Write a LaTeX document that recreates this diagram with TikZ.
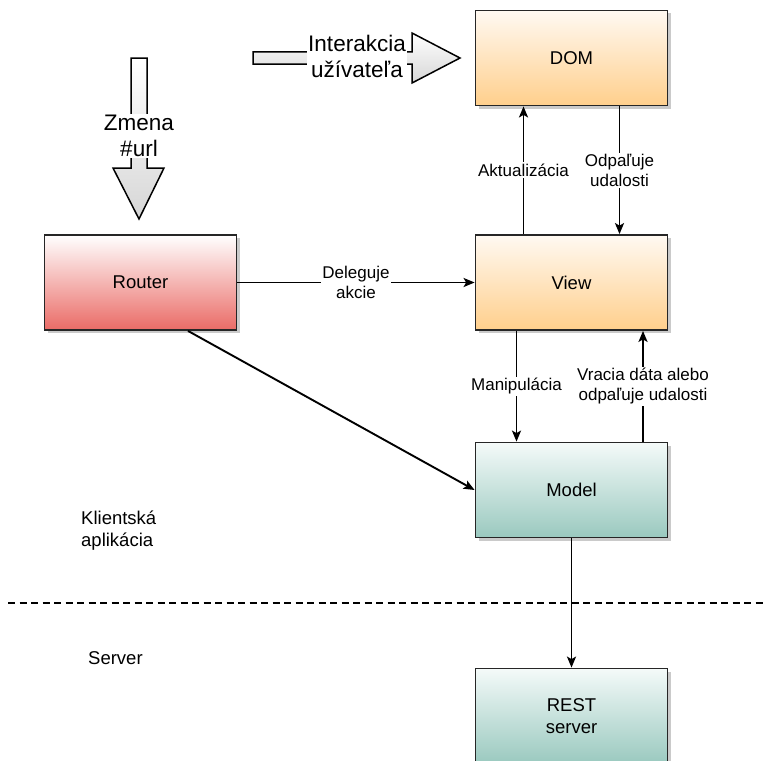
\documentclass[tikz,border=0pt]{standalone}
\usepackage{fontspec}
\setmainfont{Liberation Sans}
\usetikzlibrary{arrows.meta,shadows}
\definecolor{orangetop}{HTML}{FFF9F2}
\definecolor{orangebot}{HTML}{FFCF8C}
\definecolor{redtop}{HTML}{FFFFFF}
\definecolor{redbot}{HTML}{EA6B66}
\definecolor{tealtop}{HTML}{F4FAF9}
\definecolor{tealbot}{HTML}{9AC9BF}
\begin{document}
\begin{tikzpicture}[x=1pt,y=-1pt,
  box/.style={draw=black!85,line width=1.8pt,minimum width=192pt,minimum height=95pt,
    font=\fontsize{18.5}{22}\selectfont,align=center,
    drop shadow={shadow xshift=3pt,shadow yshift=-3pt,fill=black!35,opacity=0.6}},
  orangebox/.style={box,top color=orangetop,bottom color=orangebot},
  redbox/.style={box,top color=redtop,bottom color=redbot},
  tealbox/.style={box,top color=tealtop,bottom color=tealbot},
  conn/.style={line width=1.9pt,-{Stealth[length=11pt,width=9pt,inset=2.5pt]}},
  lbl/.style={fill=white,font=\fontsize{17}{20}\selectfont,align=center,inner sep=1.5pt},
  txt/.style={font=\fontsize{18.5}{22}\selectfont,align=left,inner sep=0pt},
  blk/.style={draw=black,line width=1.5pt,top color=white,bottom color=gray!32},
  blklbl/.style={fill=white,font=\fontsize{22.5}{26}\selectfont,align=center,inner sep=1pt}]
\useasboundingbox (0,0) rectangle (767,760);

% block arrows
\path[blk] (253,52) -- (412,52) -- (412,33) -- (460,58) -- (412,83) -- (412,64) -- (253,64) -- cycle;
\node[blklbl] (interakcia) at (357,56) {Interakcia\\užívateľa};
\path[blk] (131,58) -- (147,58) -- (147,168) -- (164,168) -- (139,219) -- (113,168) -- (131,168) -- cycle;
\node[blklbl] (zmena) at (139,136) {Zmena\\\#url};

% boxes
\node[orangebox] (dom) at (571.5,58) {DOM};
\node[orangebox] (view) at (571.5,282.5) {View};
\node[tealbox] (model) at (571.5,490) {Model};
\node[tealbox] (rest) at (571.5,716) {REST\\server};
\node[redbox] (router) at (140.5,282.5) {Router};

% connectors
\draw[conn] ([xshift=-48pt]view.north) -- node[lbl] {Aktualizácia} ([xshift=-48pt]dom.south);
\draw[conn] ([xshift=48pt]dom.south) -- node[lbl] {Odpaľuje\\udalosti} ([xshift=48pt]view.north);
\draw[conn] (router.east) -- node[lbl] {Deleguje\\akcie} (view.west);
\draw[conn] ([xshift=-55pt]view.south) -- node[lbl] {Manipulácia} ([xshift=-55pt]model.north);
\draw[conn] ([xshift=71.5pt]model.north) -- node[lbl] {Vracia dáta alebo\\odpaľuje udalosti} ([xshift=71.5pt]view.south);
\draw[conn] ([xshift=47.5pt]router.south) -- (model.west);
\draw[conn] (model.south) -- (rest.north);

% separator
\coordinate (sepL) at (8,603);
\coordinate (sepR) at (767,603);
\draw[line width=1.8pt,dash pattern=on 7pt off 4.5pt] (sepL) -- (sepR);

% region labels
\node[txt,anchor=north west] (klient) at (81,511) {Klientská\\aplikácia};
\node[txt,anchor=north west] (server) at (88,651) {Server};
\end{tikzpicture}
\end{document}
